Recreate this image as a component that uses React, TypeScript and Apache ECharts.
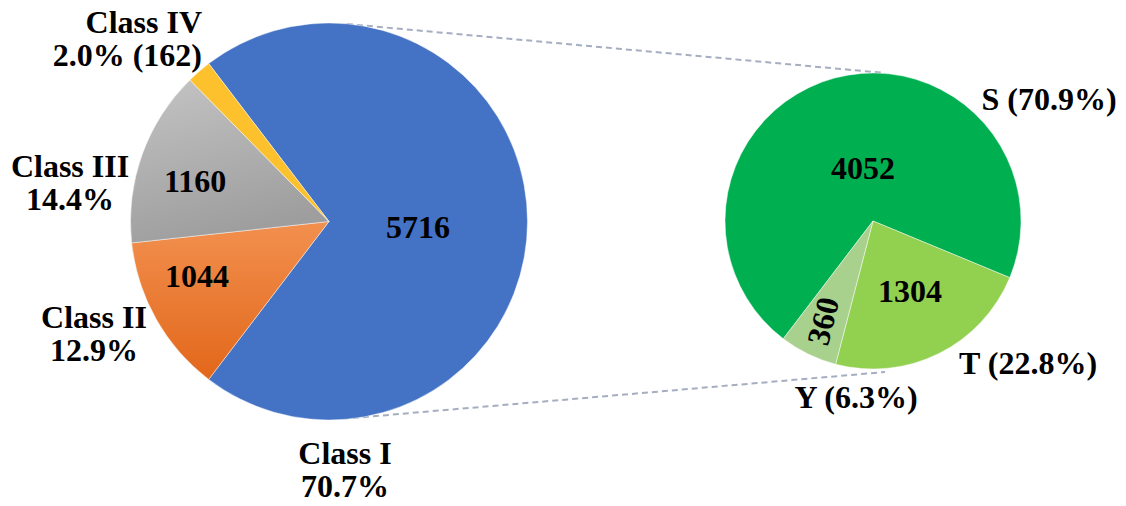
import React, { useEffect, useRef } from "react";
import * as echarts from "echarts";

// ---- data ----
const classNames = ["Class I", "Class II", "Class III", "Class IV"];
const classValues = [5716, 1044, 1160, 162];
const subNames = ["S", "T", "Y"];
const subValues = [4052, 1304, 360];

const FONT = '"Liberation Serif", "Times New Roman", serif';

function pct(v: number, arr: number[]) {
  const total = arr.reduce((a, b) => a + b, 0);
  return ((v / total) * 100).toFixed(1) + "%";
}

function txt(text: string, x: number, y: number, align = "center", rotationDeg = 0) {
  return {
    type: "text",
    x,
    y,
    rotation: (rotationDeg * Math.PI) / 180,
    silent: true,
    z: 100,
    style: {
      text,
      fill: "#000",
      font: `bold 32px ${FONT}`,
      lineHeight: 33,
      align,
      verticalAlign: "middle",
    },
  };
}

export default function App() {
  const ref = useRef<HTMLDivElement>(null);
  useEffect(() => {
    document.body.style.margin = "0";
    const chart = echarts.init(ref.current!, null, { renderer: "svg" });

    const classColors: any[] = [
      "#4472C4",
      {
        type: "linear", x: 0, y: 0, x2: 0, y2: 1,
        colorStops: [
          { offset: 0, color: "#F2904F" },
          { offset: 1, color: "#E2671A" },
        ],
      },
      {
        type: "linear", x: 0, y: 0, x2: 0.3, y2: 1,
        colorStops: [
          { offset: 0, color: "#C4C4C4" },
          { offset: 1, color: "#9E9E9E" },
        ],
      },
      "#FCC12C",
    ];
    const subColors = ["#00B050", "#92D050", "#A9D18E"];

    const graphic: any[] = [
      // connector lines
      {
        type: "line", silent: true,
        shape: { x1: 347, y1: 24, x2: 885, y2: 73 },
        style: { stroke: "#A5AEC0", lineWidth: 2, lineDash: [6, 4] },
      },
      {
        type: "line", silent: true,
        shape: { x1: 353, y1: 418, x2: 885, y2: 372 },
        style: { stroke: "#A5AEC0", lineWidth: 2, lineDash: [6, 4] },
      },
      // outer labels, left pie
      txt(`${classNames[3]}\n${pct(classValues[3], classValues)} (${classValues[3]})`, 202, 38, "right"),
      txt(`${classNames[2]}\n${pct(classValues[2], classValues)}`, 70, 182),
      txt(`${classNames[1]}\n${pct(classValues[1], classValues)}`, 94, 333.5),
      txt(`${classNames[0]}\n${pct(classValues[0], classValues)}`, 345, 469.5),
      // inner values, left pie
      txt(String(classValues[0]), 418, 227),
      txt(String(classValues[1]), 197, 276),
      txt(String(classValues[2]), 195, 181),
      // right pie labels
      txt(`${subNames[0]} (${pct(subValues[0], subValues)})`, 1049, 99),
      txt(`${subNames[1]} (${pct(subValues[1], subValues)})`, 1028, 363),
      txt(`${subNames[2]} (${pct(subValues[2], subValues)})`, 856, 397),
      txt(String(subValues[0]), 863, 168),
      txt(String(subValues[1]), 910, 291),
      txt(String(subValues[2]), 823, 321, "center", 76),
    ];

    chart.setOption({
      animation: false,
      graphic,
      series: [
        {
          type: "pie",
          silent: true,
          center: [329, 221.5],
          radius: [0, 198.5],
          startAngle: 127.3,
          clockwise: true,
          label: { show: false },
          labelLine: { show: false },
          emphasis: { disabled: true },
          itemStyle: { borderColor: "rgba(255,255,255,0.45)", borderWidth: 1 },
          data: classNames.map((n, i) => ({
            name: n,
            value: classValues[i],
            itemStyle: { color: classColors[i] },
          })),
        },
        {
          type: "pie",
          silent: true,
          center: [873, 221],
          radius: [0, 148],
          startAngle: 232.7,
          clockwise: true,
          label: { show: false },
          labelLine: { show: false },
          emphasis: { disabled: true },
          itemStyle: { borderColor: "rgba(255,255,255,0.45)", borderWidth: 1 },
          data: subNames.map((n, i) => ({
            name: n,
            value: subValues[i],
            itemStyle: { color: subColors[i] },
          })),
        },
      ],
    });
    return () => chart.dispose();
  }, []);
  return <div ref={ref} style={{ width: 1126, height: 506, background: "#fff" }} />;
}
